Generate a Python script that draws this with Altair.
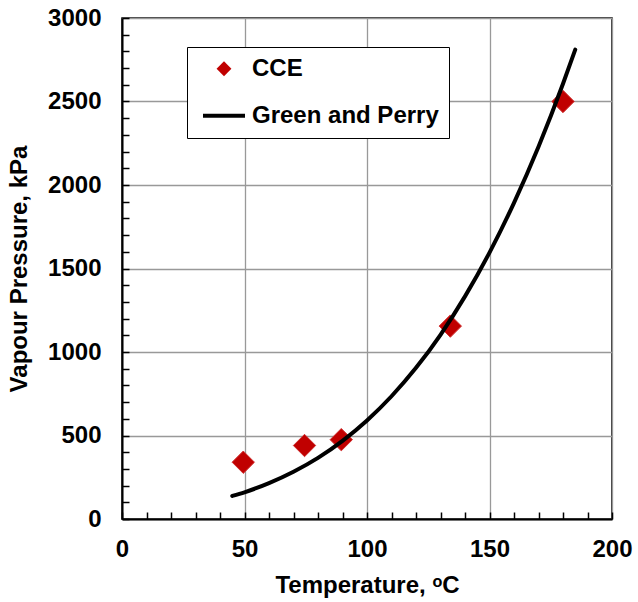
import altair as alt
import pandas as pd

# CCE measurements
cce_temp = [49.5, 74.5, 89.5, 134.0, 180.0]
cce_pres = [340, 440, 475, 1155, 2500]

# Green and Perry correlation
gp_temp = [45, 50, 60, 70, 80, 90, 100, 110, 120, 130, 140, 150, 160, 170, 180, 185]
gp_pres = [138, 160, 215, 283, 366, 468, 590, 735, 905, 1103, 1333, 1595, 1893, 2229, 2606, 2811]

x_major = [0, 50, 100, 150, 200]
x_minor = list(range(0, 201, 10))
y_major = [0, 500, 1000, 1500, 2000, 2500, 3000]
y_minor = list(range(0, 3001, 100))

series_names = ["CCE", "Green and Perry"]
series_colors = ["#c00000", "black"]
series_shapes = ["diamond", "stroke"]
series_sizes = [220, 1764]
series_widths = [0, 4]

cce_df = pd.DataFrame({"T": cce_temp, "P": cce_pres, "series": "CCE"})
gp_df = pd.DataFrame({"T": gp_temp, "P": gp_pres, "series": "Green and Perry"})

FONT = "Liberation Sans"
FS = 24
W, H = 490, 501

xscale = alt.Scale(domain=[0, 200], nice=False, zero=False)
yscale = alt.Scale(domain=[0, 3000], nice=False, zero=False)

legend = alt.Legend(
    title=None,
    orient="none",
    legendX=65,
    legendY=29,
    fillColor="white",
    strokeColor="black",
    padding=9.75,
    rowPadding=12,
    symbolOffset=4.25,
    symbolStrokeColor="black",
    labelOffset=5,
    labelLimit=400,
    labelFont=FONT,
    labelFontSize=FS,
    labelFontWeight="bold",
    labelColor="black",
)

main_x_axis = alt.Axis(
    orient="bottom", values=x_major, grid=True, gridColor="#999999", gridWidth=1.3,
    domain=True, domainColor="black", domainWidth=2, ticks=False, tickSize=0,
    labelFlush=False, labelPadding=18, labelFont=FONT, labelFontSize=FS, labelFontWeight="bold",
    labelColor="black",
    title="Temperature, ᵒC", titleFont=FONT, titleFontSize=FS, titleFontWeight="bold",
    titleColor="black", titlePadding=12, format="d",
)
main_y_axis = alt.Axis(
    orient="left", values=y_major, grid=True, gridColor="#999999", gridWidth=1.3,
    domain=True, domainColor="black", domainWidth=2, ticks=False, tickSize=0,
    labelFlush=False, labelPadding=21, labelFont=FONT, labelFontSize=FS, labelFontWeight="bold",
    labelColor="black",
    title="Vapour Pressure, kPa", titleFont=FONT, titleFontSize=FS, titleFontWeight="bold",
    titleColor="black", titlePadding=16, format="d",
)
minor_x_axis = alt.Axis(
    orient="top", offset=-H, values=x_minor, grid=False, domain=False, labels=False,
    ticks=True, tickSize=7, tickColor="black", tickWidth=1.5, title=None,
)
minor_y_axis = alt.Axis(
    orient="right", offset=-W, values=y_minor, grid=False, domain=False, labels=False,
    ticks=True, tickSize=7, tickColor="black", tickWidth=1.5, title=None,
)

# legend carrier layer (no marks drawn; legend comes from the explicit scale domains)
legend_layer = alt.Chart(pd.concat([cce_df, gp_df])).transform_filter("false").mark_point(
    filled=True, opacity=1
).encode(
    x=alt.X("T:Q", scale=xscale, axis=None),
    y=alt.Y("P:Q", scale=yscale, axis=None),
    color=alt.Color("series:N", scale=alt.Scale(domain=series_names, range=series_colors), legend=legend),
    shape=alt.Shape("series:N", scale=alt.Scale(domain=series_names, range=series_shapes), legend=legend),
    size=alt.Size("series:O", scale=alt.Scale(domain=series_names, range=series_sizes), legend=legend),
    strokeWidth=alt.StrokeWidth("series:O", scale=alt.Scale(domain=series_names, range=series_widths), legend=legend),
)

line = alt.Chart(gp_df).mark_line(
    strokeWidth=4, strokeCap="round", strokeJoin="round", interpolate="monotone", color="black"
).encode(
    x=alt.X("T:Q", scale=xscale, axis=minor_x_axis),
    y=alt.Y("P:Q", scale=yscale, axis=minor_y_axis),
)

points = alt.Chart(cce_df).mark_point(
    shape="diamond", filled=True, size=500, opacity=1, fill="#c00000", stroke="#d03030", strokeWidth=1
).encode(
    x=alt.X("T:Q", scale=xscale, axis=main_x_axis),
    y=alt.Y("P:Q", scale=yscale, axis=main_y_axis),
)

chart = alt.layer(points, line, legend_layer).resolve_axis(x="independent", y="independent").properties(
    width=W, height=H,
    padding={"left": 122, "top": 18, "right": 26, "bottom": 83},
    autosize="none",
    background="white",
).configure_view(stroke="black", strokeWidth=1.5)

chart.save("out.html", embed_options={"renderer": "svg", "actions": False})
